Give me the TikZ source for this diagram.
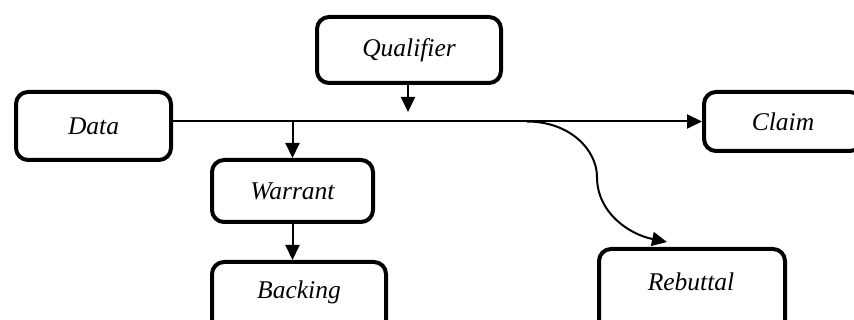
\documentclass[tikz,border=0pt]{standalone}
\usepackage{fontspec}
\setmainfont{Liberation Serif}
\usetikzlibrary{arrows.meta}
\tikzset{
  box/.style={draw=black, line width=4pt, rounded corners=12pt, fill=white,
    inner sep=0pt, font=\itshape\fontsize{25.5}{30}\selectfont},
  txt/.style={inner sep=0pt, font=\itshape\fontsize{25.5}{30}\selectfont},
  conn/.style={draw=black, line width=2pt, -{Triangle[length=15pt,width=14pt]}}
}
\begin{document}
\begin{tikzpicture}[x=1pt,y=-1pt]
\useasboundingbox (0,0) rectangle (854,320);
\clip (0,0) rectangle (854,320);
\fill[white] (0,0) rectangle (854,320);
% boxes
\node[box, minimum width=155pt, minimum height=68pt] (data) at (93.5,126) {Data};
\node[box, minimum width=184pt, minimum height=66pt] (qual) at (409,50) {Qualifier};
\node[box, minimum width=161pt, minimum height=62pt] (warr) at (292.5,191) {Warrant};
\node[box, minimum width=174pt, minimum height=100pt, anchor=north] (back) at (299,260) {};
\node[txt] (backtxt) at (299,292) {Backing};
\node[box, minimum width=158pt, minimum height=59pt] (claim) at (783,121.5) {Claim};
\node[box, minimum width=186pt, minimum height=100pt, anchor=north] (rebut) at (692,247) {};
\node[txt] (rebuttxt) at (691,282) {Rebuttal};
% helper coordinates
\coordinate (start) at (data.east |- claim.west);
\coordinate (qtip) at (408,112);
\coordinate (wsplit) at (warr.north |- claim.west);
\coordinate (rsplit) at (527,121.5);
\coordinate (rmid) at (597,177);
\coordinate (rtip) at (667,242);
% connectors
\draw[conn] (start) -- (claim.west);
\draw[conn] (qual.south -| qtip) -- (qtip);
\draw[conn] (wsplit) -- (warr.north);
\draw[conn] (warr.south) -- (warr.south |- back.north);
\draw[conn] (rsplit) .. controls (570,121.5) and (597,150) .. (rmid)
  .. controls (597,212) and (628,234) .. (rtip);
\end{tikzpicture}
\end{document}
